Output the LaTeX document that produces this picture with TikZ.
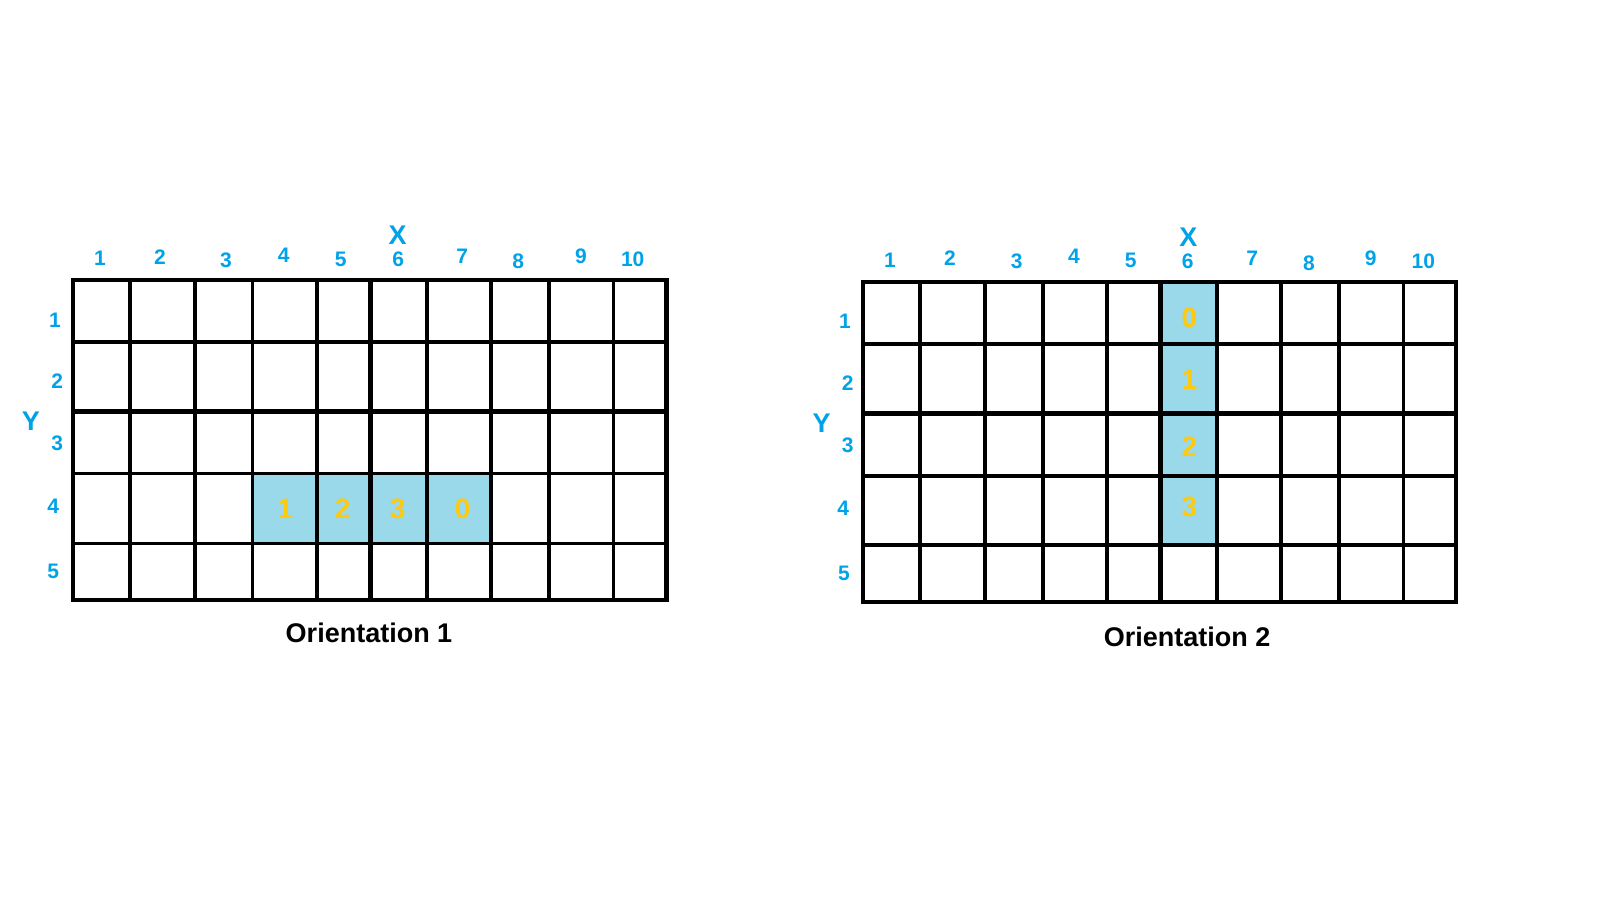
\documentclass[tikz,border=0pt]{standalone}
\usepackage{fontspec}
\setmainfont{Liberation Sans}
\definecolor{lblblue}{HTML}{00A2E8}
\definecolor{cellfill}{HTML}{99D9EA}
\definecolor{digitgold}{HTML}{FFC90E}
\begin{document}
\begin{tikzpicture}[x=1pt,y=-1pt,
  axislbl/.style={text=lblblue, font=\bfseries\fontsize{21}{21}\selectfont, inner sep=0},
  axisname/.style={text=lblblue, font=\bfseries\fontsize{27}{27}\selectfont, inner sep=0},
  celldigit/.style={text=digitgold, font=\bfseries\fontsize{28}{28}\selectfont, inner sep=0},
  captxt/.style={text=black, font=\bfseries\fontsize{27}{27}\selectfont, inner sep=0},
  gridline/.style={line width=3.6pt, line cap=rect},
  heavyline/.style={line width=5pt, line cap=butt}]
\useasboundingbox[fill=white] (0,0) rectangle (1600,900);

% ---------------- Left grid (Orientation 1) ----------------
\fill[cellfill] (252.3,473.3) rectangle (491,543.3);
\foreach \x in {130,195,252.3,316.7,426.7,491,548.7,613.3}
  \draw[gridline] (\x,280) -- (\x,600);
\foreach \y in {341.7,473.3,543.3}
  \draw[gridline] (72.7,\y) -- (666.7,\y);
\draw[gridline] (72.7,280) rectangle (666.7,600);
\draw[heavyline] (370,280) -- (370,600);
\draw[heavyline] (72.7,411.7) -- (669,411.7);
\draw[line width=4.5pt, line cap=butt] (666.7,278.2) -- (666.7,601.8);

\node[axisname] (lx) at (397.7,235) {X};
\node[axislbl] (lc1) at (100,258) {1};
\node[axislbl] (lc2) at (160,256.7) {2};
\node[axislbl] (lc3) at (226,260) {3};
\node[axislbl] (lc4) at (283.7,255) {4};
\node[axislbl] (lc5) at (340.7,259) {5};
\node[axislbl] (lc6) at (398.3,259.5) {6};
\node[axislbl] (lc7) at (462.3,256.7) {7};
\node[axislbl] (lc8) at (518.3,261.7) {8};
\node[axislbl] (lc9) at (581,256.7) {9};
\node[axislbl] (lc10) at (632.7,259.3) {10};

\node[axisname] (ly) at (31,421.7) {Y};
\node[axislbl] (lr1) at (55,320) {1};
\node[axislbl] (lr2) at (57.3,380.7) {2};
\node[axislbl] (lr3) at (57.3,443.3) {3};
\node[axislbl] (lr4) at (53.3,506) {4};
\node[axislbl] (lr5) at (53.3,571.7) {5};

\node[celldigit] (ld1) at (285.5,508.5) {1};
\node[celldigit] (ld2) at (342.7,508.5) {2};
\node[celldigit] (ld3) at (397.7,508.5) {3};
\node[celldigit] (ld0) at (462.7,508.5) {0};

\node[captxt] (lcap) at (369,632.5) {Orientation 1};

% ---------------- Right grid (Orientation 2) ----------------
\fill[cellfill] (1160,281.7) rectangle (1216.7,545);
\foreach \x in {920,985,1042.7,1106.7,1216.7,1281,1338.7,1403.3}
  \draw[gridline] (\x,281.7) -- (\x,601.7);
\foreach \y in {344,476,545}
  \draw[gridline] (862.7,\y) -- (1456,\y);
\draw[gridline] (862.7,281.7) rectangle (1456,601.7);
\draw[heavyline] (1160,281.7) -- (1160,601.7);
\draw[heavyline] (862.7,413.3) -- (1458.3,413.3);
\draw[line width=4.5pt, line cap=butt] (1456,279.9) -- (1456,603.5);

\node[axisname] (rx) at (1188.3,237) {X};
\node[axislbl] (rc1) at (890,260) {1};
\node[axislbl] (rc2) at (950,258.3) {2};
\node[axislbl] (rc3) at (1016.7,261.7) {3};
\node[axislbl] (rc4) at (1074,256.7) {4};
\node[axislbl] (rc5) at (1130.7,260.7) {5};
\node[axislbl] (rc6) at (1187.7,261) {6};
\node[axislbl] (rc7) at (1252.3,258.3) {7};
\node[axislbl] (rc8) at (1309,263.3) {8};
\node[axislbl] (rc9) at (1370.7,258.3) {9};
\node[axislbl] (rc10) at (1423.3,261.7) {10};

\node[axisname] (ry) at (821.7,423.7) {Y};
\node[axislbl] (rr1) at (845,321.7) {1};
\node[axislbl] (rr2) at (847.7,382.7) {2};
\node[axislbl] (rr3) at (847.7,445) {3};
\node[axislbl] (rr4) at (843.3,508.3) {4};
\node[axislbl] (rr5) at (844,573.3) {5};

\node[celldigit] (rd0) at (1189.3,318.3) {0};
\node[celldigit] (rd1) at (1189.3,380) {1};
\node[celldigit] (rd2) at (1189.3,446.7) {2};
\node[celldigit] (rd3) at (1189.3,506.7) {3};

\node[captxt] (rcap) at (1187,637) {Orientation 2};
\end{tikzpicture}
\end{document}
